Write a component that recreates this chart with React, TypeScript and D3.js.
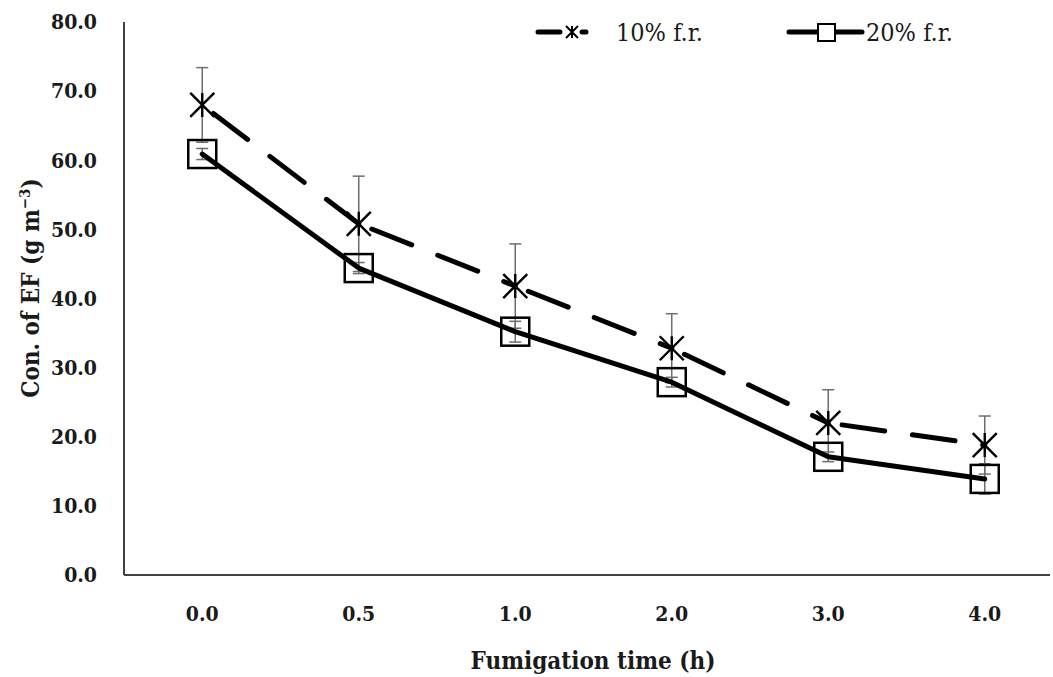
import * as d3 from 'd3';

const categories = ['0.0', '0.5', '1.0', '2.0', '3.0', '4.0'];
const fr10 = [68.0, 50.8, 41.8, 32.8, 22.0, 18.8];
const fr10Err = [5.4, 6.9, 6.1, 5.0, 4.8, 4.2];
const fr20 = [60.9, 44.4, 35.2, 27.9, 17.1, 13.9];
const fr20Err = [0.8, 0.8, 1.5, 0.7, 0.7, 2.2];
const yTicks = [0, 10, 20, 30, 40, 50, 60, 70, 80];

const W = 1053;
const H = 677;
const FONT = '"DejaVu Serif Condensed", "DejaVu Serif", serif';

const App = () => {
  const x = d3.scaleBand<string>().domain(categories).range([124, 1063]);
  const cx = (c: string) => (x(c) ?? 0) + x.bandwidth() / 2;
  const y = d3.scaleLinear().domain([0, 80]).range([575, 22]);

  const line = d3.line<number>().x((_, i) => cx(categories[i])).y(d => y(d));

  // each segment drawn on its own so the dash pattern restarts at every point, like Excel
  const segs = fr10.slice(1).map((v, i) => [fr10[i], v]);

  const star = (px: number, py: number, r: number) =>
    `M${px},${py - r}L${px},${py + r}M${px - r},${py - r}L${px + r},${py + r}M${px - r},${py + r}L${px + r},${py - r}`;

  const errBar = (v: number, e: number, c: string, key: string) => {
    const px = cx(c);
    return (
      <g key={key} stroke="#6e6e6e" strokeWidth={1.5}>
        <line x1={px} x2={px} y1={y(v + e)} y2={y(v - e)} />
        <line x1={px - 6} x2={px + 6} y1={y(v + e)} y2={y(v + e)} />
        <line x1={px - 6} x2={px + 6} y1={y(v - e)} y2={y(v - e)} />
      </g>
    );
  };

  return (
    <svg width={W} height={H} style={{ position: 'absolute', left: 0, top: 0, background: '#fff' }}
      fontFamily={FONT}>
      {/* axes */}
      <line x1={124} x2={124} y1={22} y2={575} stroke="#404040" strokeWidth={2} />
      <line x1={124} x2={1050} y1={575} y2={575} stroke="#404040" strokeWidth={2} />
      {yTicks.map(t => (
        <text key={t} x={97} y={y(t)} dy="0.35em" textAnchor="end" fontSize={21} fontWeight="bold" fill="#1a1a1a">
          {t.toFixed(1)}
        </text>
      ))}
      {categories.map(c => (
        <text key={c} x={cx(c)} y={614} dy="0.35em" textAnchor="middle" fontSize={21} fontWeight="bold" fill="#1a1a1a">
          {c}
        </text>
      ))}
      <text x={593} y={661} dy="0.35em" textAnchor="middle" fontSize={24} fontWeight="bold" fill="#1a1a1a">
        Fumigation time (h)
      </text>
      <text transform="translate(31,288) rotate(-90)" dy="0.35em" textAnchor="middle" fontSize={24} fontWeight="bold" fill="#1a1a1a">
        Con. of EF (g m<tspan dy="-9" fontSize={15}>−3</tspan><tspan dy="9">)</tspan>
      </text>

      {/* error bars */}
      {fr10.map((v, i) => errBar(v, fr10Err[i], categories[i], 'e10' + i))}
      {fr20.map((v, i) => errBar(v, fr20Err[i], categories[i], 'e20' + i))}

      {/* 10% f.r. dashed */}
      {segs.map((s, i) => (
        <path key={'s' + i}
          d={`M${cx(categories[i])},${y(s[0])}L${cx(categories[i + 1])},${y(s[1])}`}
          fill="none" stroke="#000" strokeWidth={5} strokeLinecap="round"
          strokeDasharray="43 28" strokeDashoffset={57} />
      ))}
      {fr10.map((v, i) => (
        <path key={'m10' + i} d={star(cx(categories[i]), y(v), 12)} stroke="#000" strokeWidth={2.4} fill="none" />
      ))}

      {/* 20% f.r. solid */}
      <path d={line(fr20) ?? ''} fill="none" stroke="#000" strokeWidth={5} strokeLinejoin="round" strokeLinecap="round" />
      {fr20.map((v, i) => (
        <rect key={'m20' + i} x={cx(categories[i]) - 14} y={y(v) - 14} width={28} height={28}
          fill="none" stroke="#000" strokeWidth={2.5} />
      ))}

      {/* legend */}
      <line x1={538} x2={586} y1={32} y2={32} stroke="#000" strokeWidth={5} strokeLinecap="round" strokeDasharray="22 22" />
      <path d={star(572, 32, 6)} stroke="#000" strokeWidth={2} fill="none" />
      <text x={616} y={32} dy="0.35em" fontSize={25} fill="#1a1a1a">10% f.r.</text>
      <line x1={789} x2={862} y1={32} y2={32} stroke="#000" strokeWidth={5} strokeLinecap="round" />
      <rect x={818} y={24} width={17} height={17} fill="#fff" stroke="#000" strokeWidth={2} />
      <text x={866} y={32} dy="0.35em" fontSize={25} fill="#1a1a1a">20% f.r.</text>
    </svg>
  );
};

export default App;
